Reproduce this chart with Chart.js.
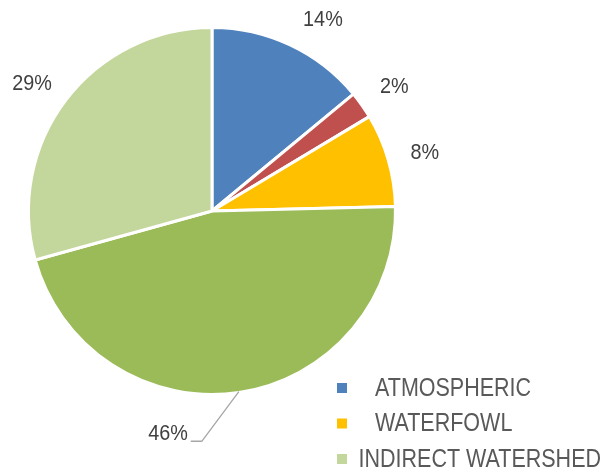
<!DOCTYPE html>
<html>
<head>
<meta charset="utf-8">
<script src="https://cdn.jsdelivr.net/npm/chart.js@4.4.1/dist/chart.umd.min.js"></script>
<style>
  html, body { margin: 0; padding: 0; background: #fff; }
  #wrap { width: 605px; height: 469px; position: relative; }
</style>
</head>
<body>
<div id="wrap"><canvas id="pieCanvas"></canvas></div>
<script>
// datos del gráfico
const categorias = ['ATMOSPHERIC', 'GROUNDWATER', 'WATERFOWL', 'DIRECT WATERSHED', 'INDIRECT WATERSHED'];
const valores = [14.0, 2.4, 8.2, 46.1, 29.3];
const colores = ['#4f81bd', '#c0504d', '#ffc000', '#9bbb59', '#c3d69b'];
const enLeyenda = ['ATMOSPHERIC', 'WATERFOWL', 'INDIRECT WATERSHED'];

const total = valores.reduce((a, b) => a + b, 0);

// texto algo estrecho (parecido a Calibri)
function textoEstrecho(ctx, txt, x, y, align, escala) {
  const w = ctx.measureText(txt).width * escala;
  let x0 = x;
  if (align === 'center') x0 = x - w / 2;
  if (align === 'right') x0 = x - w;
  ctx.save();
  ctx.translate(x0, y);
  ctx.scale(escala, 1);
  ctx.textAlign = 'left';
  ctx.fillText(txt, 0, 0);
  ctx.restore();
  return w;
}

// --- etiquetas de porcentaje ---
const etiquetasPlugin = {
  id: 'etiquetas',
  afterDatasetsDraw(chart) {
    const ctx = chart.ctx;
    const meta = chart.getDatasetMeta(0);
    const ajuste = [5, 1, 1, 0, -2]; // grados
    ctx.save();
    ctx.font = '22px "Liberation Sans", Arial, sans-serif';
    ctx.fillStyle = '#404040';
    ctx.textBaseline = 'middle';
    meta.data.forEach((arc, i) => {
      const p = arc.getProps(['x', 'y', 'startAngle', 'endAngle', 'outerRadius'], true);
      const txt = Math.round(valores[i] / total * 100) + '%';
      const mid = (p.startAngle + p.endAngle) / 2;
      if (i === 3) {
        // etiqueta con línea guía
        const x0 = p.x + Math.cos(mid) * (p.outerRadius - 1);
        const y0 = p.y + Math.sin(mid) * (p.outerRadius - 1);
        const a1 = mid + 11 * Math.PI / 180;
        const x1 = p.x + Math.cos(a1) * (p.outerRadius + 47);
        const y1 = p.y + Math.sin(a1) * (p.outerRadius + 47);
        ctx.strokeStyle = '#a6a6a6';
        ctx.lineWidth = 1.3;
        ctx.beginPath();
        ctx.moveTo(x0, y0);
        ctx.lineTo(x1, y1);
        ctx.lineTo(x1 - 11, y1);
        ctx.stroke();
        textoEstrecho(ctx, txt, x1 - 14, y1 - 7, 'right', 0.9);
        return;
      }
      const a = mid + ajuste[i] * Math.PI / 180;
      const r = p.outerRadius + 37;
      textoEstrecho(ctx, txt, p.x + Math.cos(a) * r, p.y + Math.sin(a) * r, 'center', 0.9);
    });
    ctx.restore();
  }
};

// --- leyenda abajo a la derecha ---
const leyendaPlugin = {
  id: 'leyenda',
  afterDraw(chart) {
    const ctx = chart.ctx;
    ctx.save();
    ctx.font = '25px "Liberation Sans", Arial, sans-serif';
    ctx.textBaseline = 'middle';
    const escala = 0.86;
    enLeyenda.forEach((nombre, k) => {
      const i = categorias.indexOf(nombre);
      const y = 388 + k * 35.5;
      ctx.fillStyle = colores[i];
      ctx.fillRect(337, y - 5, 10, 10);
      const w = ctx.measureText(nombre).width * escala;
      ctx.fillStyle = '#595959';
      textoEstrecho(ctx, nombre, Math.min(375, 601 - w), y + 1, 'left', escala);
    });
    ctx.restore();
  }
};

new Chart(document.getElementById('pieCanvas'), {
  type: 'pie',
  data: {
    labels: categorias,
    datasets: [{
      data: valores,
      backgroundColor: colores,
      borderColor: '#ffffff',
      borderWidth: 3
    }]
  },
  options: {
    responsive: true,
    maintainAspectRatio: false,
    animation: false,
    layout: { padding: { top: 26, bottom: 73, left: 27, right: 208 } },
    plugins: {
      legend: { display: false },
      tooltip: { enabled: false }
    }
  },
  plugins: [etiquetasPlugin, leyendaPlugin]
});
</script>
</body>
</html>
